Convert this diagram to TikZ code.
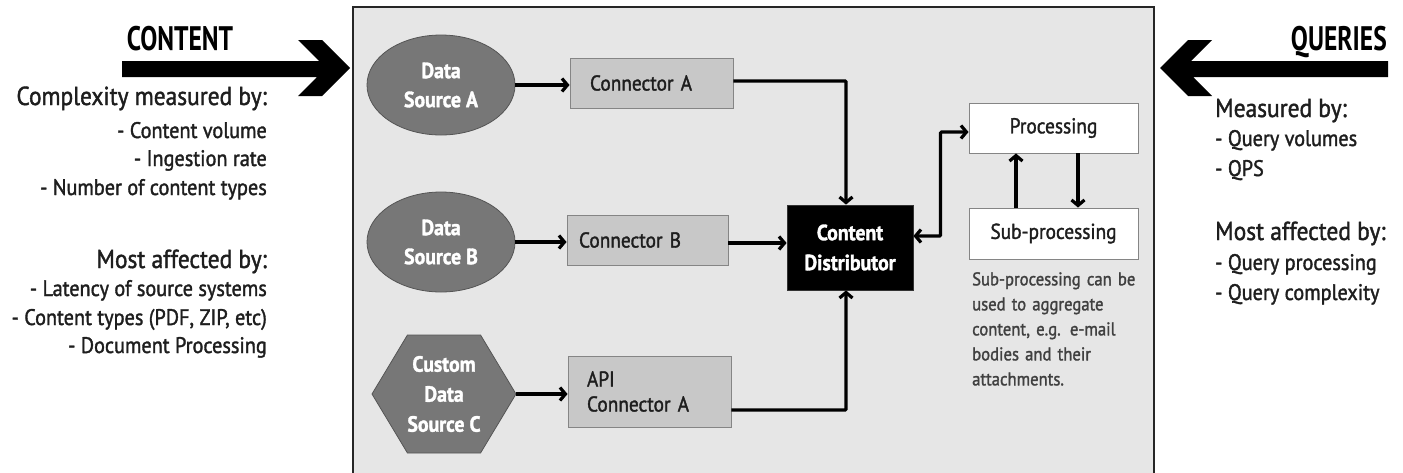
\documentclass[tikz,border=0pt]{standalone}
\usepackage{fontspec}
\setmainfont{PT Sans}[FakeStretch=0.9, FakeBold=1.5]
\newfontfamily\narrowfont{PT Sans}[FakeStretch=0.75]
\usetikzlibrary{arrows.meta,shapes.geometric,shapes.symbols}

\definecolor{panel}{HTML}{E6E6E6}
\definecolor{panelline}{HTML}{262626}
\definecolor{srcfill}{HTML}{777777}
\definecolor{srcline}{HTML}{555555}
\definecolor{connfill}{HTML}{C8C8C8}
\definecolor{connline}{HTML}{858585}
\definecolor{ink}{HTML}{1E1E1E}

\tikzset{
  head/.style={font=\fontsize{26}{30}\selectfont, text=ink, inner sep=0},
  item/.style={font=\fontsize{22.5}{25}\selectfont, text=ink, inner sep=0},
  bigtitle/.style={font=\narrowfont\bfseries\fontsize{34}{40}\selectfont, text=black, inner sep=0},
  source/.style={ellipse, draw=srcline, fill=srcfill, line width=0.8pt,
    minimum width=148pt, minimum height=100pt, inner sep=0, text=white,
    align=center, font=\bfseries\fontsize{22}{29}\selectfont},
  hexsource/.style={signal, signal to=west and east, signal pointer angle=118,
    draw=srcline, fill=srcfill, line width=0.8pt,
    minimum width=144pt, minimum height=118pt, inner sep=0, text=white,
    align=center, font=\bfseries\fontsize{22}{30}\selectfont},
  conn/.style={rectangle, draw=connline, fill=connfill, line width=0.9pt,
    minimum height=50pt, inner ysep=0, align=left, text=ink,
    font=\fontsize{21.5}{25}\selectfont},
  whitebox/.style={rectangle, draw=connline, fill=white, line width=0.9pt,
    minimum width=169pt, inner sep=0, text=ink,
    font=\fontsize{21.5}{25}\selectfont},
  distributor/.style={rectangle, draw=black!80, fill=black, line width=0.8pt,
    minimum width=126pt, minimum height=85pt, inner sep=0, text=white,
    align=center, font=\bfseries\fontsize{22}{30}\selectfont},
  flow/.style={draw=black, line width=3.2pt,
    -{Straight Barb[length=5.5pt,width=13pt]}},
  twoway/.style={draw=black, line width=3.2pt,
    {Straight Barb[length=5.5pt,width=13pt]}-{Straight Barb[length=5.5pt,width=13pt]}},
  bigarrow/.style={fill=black, draw=none}
}

\begin{document}
\begin{tikzpicture}[x=1pt,y=-1pt]
\useasboundingbox (0,0) rectangle (1403,472);
\fill[white] (0,0) rectangle (1403,472);

% central panel, open at the bottom edge
\draw[fill=panel, draw=panelline, line width=2pt] (353,7) rectangle (1154,482);

% incoming content arrow and title
\fill[bigarrow] (122,61) -- (319,61) -- (298,40) -- (322,40) -- (350,68)
  -- (322,96) -- (298,96) -- (317,77) -- (122,77) -- cycle;
\node[bigtitle, anchor=base] (tcontent) at (180,50) {CONTENT};

% incoming queries arrow and title
\fill[bigarrow] (1388,61) -- (1191,61) -- (1212,40) -- (1188,40) -- (1160,68)
  -- (1188,96) -- (1212,96) -- (1193,77) -- (1388,77) -- cycle;
\node[bigtitle, anchor=base east] (tqueries) at (1387,50) {QUERIES};

% content side notes
\node[head, anchor=base east] (c1) at (267,105) {Complexity measured by:};
\node[item, anchor=base east] (c2) at (267,138) {- Content volume};
\node[item, anchor=base east] (c3) at (267,166) {- Ingestion rate};
\node[item, anchor=base east] (c4) at (267,195) {- Number of content types};
\node[head, anchor=base east] (c5) at (267,268) {Most affected by:};
\node[item, anchor=base east] (c6) at (267,296) {- Latency of source systems};
\node[item, anchor=base east] (c7) at (267,325) {- Content types (PDF, ZIP, etc)};
\node[item, anchor=base east] (c8) at (267,353) {- Document Processing};

% query side notes
\node[head, anchor=base west] (q1) at (1215,117) {Measured by:};
\node[item, anchor=base west] (q2) at (1215,146) {- Query volumes};
\node[item, anchor=base west] (q3) at (1215,176) {- QPS};
\node[head, anchor=base west] (q4) at (1215,240) {Most affected by:};
\node[item, anchor=base west] (q5) at (1215,270) {- Query processing};
\node[item, anchor=base west] (q6) at (1215,300) {- Query complexity};

% sources
\node[source] (srcA) at (441,85) {Data\\Source A};
\node[source] (srcB) at (441,242) {Data\\Source B};
\node[hexsource] (srcC) at (444,394) {Custom\\Data\\Source C};

% connectors
\node[conn, minimum width=163pt, text width=123pt, inner xsep=20pt] (conA) at (651.5,83) {Connector A};
\node[conn, minimum width=161pt, text width=137pt, inner xsep=12pt] (conB) at (647.5,240) {Connector B};
\node[conn, minimum width=163pt, minimum height=71pt, text width=125pt, inner xsep=19pt] (api) at (649.5,391.5) {API\\Connector A};

% distributor and processing
\node[distributor] (cd) at (850,247.5) {Content\\Distributor};
\node[whitebox, minimum height=50pt] (proc) at (1053.5,128) {Processing};
\node[whitebox, minimum height=51pt] (sub) at (1053.5,233.5) {Sub-processing};
\node[anchor=north west, inner sep=0, text width=175pt, align=left, text=ink!85,
  font=\fontsize{18.5}{25}\selectfont] (note) at (972,272)
  {Sub-processing can be\\used to aggregate\\content, e.g. e-mail\\bodies and their\\attachments.};

% flows
\draw[flow] (srcA.east) -- (srcA.east -| conA.west);
\draw[flow] (srcB.east) -- (srcB.east -| conB.west);
\draw[flow] (srcC.east) -- (srcC.east -| api.west);

\coordinate (aOut) at ([yshift=2]conA.east);
\coordinate (bOut) at ([yshift=-3]conB.east);
\coordinate (cOut) at ([yshift=-18.5]api.east);
\draw[flow, rounded corners=1pt] (aOut) -| ([xshift=-4]cd.north);
\draw[flow] (bOut) -- (bOut -| cd.west);
\draw[flow, rounded corners=1pt] (cOut) -| ([xshift=-4]cd.south);

\coordinate (cdOut) at ([yshift=11.5]cd.east);
\coordinate (procIn) at ([yshift=-4]proc.west);
\draw[twoway, rounded corners=1pt] (cdOut) -| ([xshift=-28]procIn) -- (procIn);

\draw[flow] ([xshift=-37.5]sub.north) -- ([xshift=-37.5]proc.south);
\draw[flow] ([xshift=24.5]proc.south) -- ([xshift=24.5]sub.north);
\end{tikzpicture}
\end{document}
